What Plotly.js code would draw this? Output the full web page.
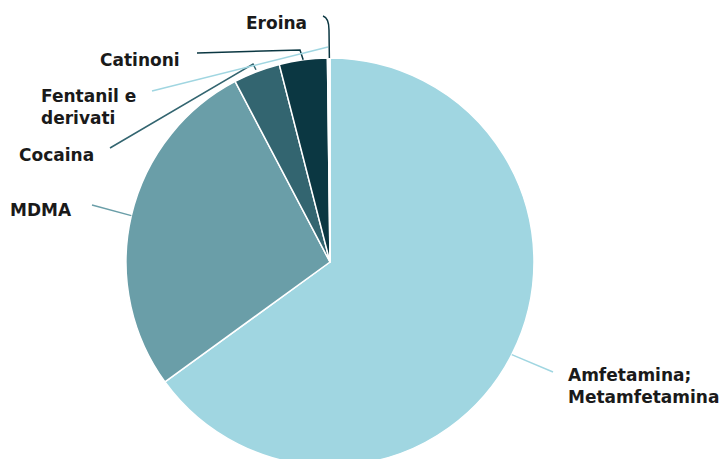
<!DOCTYPE html>
<html><head><meta charset="utf-8">
<script src="https://cdn.plot.ly/plotly-3.0.1.min.js"></script>
<style>html,body{margin:0;padding:0;overflow:hidden;background:#fff}#chart{width:719px;height:480px}</style>
</head><body><div id="chart"></div><script>
// ---- data ----
const categories = ["Amfetamina; Metamfetamina", "MDMA", "Cocaina", "Catinoni", "Fentanil e derivati", "Eroina"];
const shares = [65.0, 27.3, 3.7, 3.8, 0.1, 0.1];
const labelTexts = ["Amfetamina;<br>Metamfetamina", "MDMA", "Cocaina", "Catinoni", "Fentanil e<br>derivati", "Eroina"];
const sliceColors = ["#a0d6e1", "#6a9ea8", "#336570", "#0b3742", "#a0d6e1", "#0b3742"];

// ---- layout geometry (pixels) ----
const W = 719, H = 480;
const CX = 330, CY = 262, R = 204;
const P = (x, y) => [x / W, 1 - y / H];
const fmt = p => p[0].toFixed(5) + "," + p[1].toFixed(5);

// label placement: [x, y, xanchor]
const labelPos = [[566, 386, "left"], [41, 210, "center"], [56, 155, "center"], [140, 60, "center"], [39, 107, "left"], [276, 23, "center"]];
// leader waypoints (pixels) from the label towards the slice; last point comes from the slice angle
// an entry {q:[ctrl, to]} draws a quadratic curve
const leaderPts = [[[553, 372]], [[92, 205]], [[110, 148], [253, 64]], [[197, 53], [300, 50]], [[152, 91]], [[323, 16], {q: [[329, 18], [329, 30]]}]];
const leaderR = [R, R, R + 2, R, R + 11, R];

const total = shares.reduce((a, b) => a + b, 0);
let cum = 0;
const shapes = [], annotations = [];
shares.forEach((v, i) => {
  const mid = (cum + v / 2) / total * 2 * Math.PI; cum += v;
  const ex = CX + leaderR[i] * Math.sin(mid), ey = CY - leaderR[i] * Math.cos(mid);
  const pts = leaderPts[i].concat([[ex, ey]]);
  const path = pts.map((p, k) => {
    if (p.q) return "Q" + fmt(P(p.q[0][0], p.q[0][1])) + " " + fmt(P(p.q[1][0], p.q[1][1]));
    return (k ? "L" : "M") + fmt(P(p[0], p[1]));
  }).join(" ");
  shapes.push({type: "path", xref: "paper", yref: "paper", path: path,
    line: {color: sliceColors[i], width: 1.5}});
  const lp = P(labelPos[i][0], labelPos[i][1]);
  annotations.push({xref: "paper", yref: "paper", x: lp[0], y: lp[1], text: labelTexts[i],
    showarrow: false, xanchor: labelPos[i][2], yanchor: "middle", align: "left",
    font: {family: "DejaVu Sans", size: 17, color: "#1a1a1a", weight: "bold"}});
});

const trace = {
  type: "pie", labels: categories, values: shares, sort: false, direction: "clockwise", rotation: 0,
  marker: {colors: sliceColors, line: {color: "#ffffff", width: 1.5}},
  textinfo: "none", hoverinfo: "none",
  domain: {x: [(CX - R) / W, (CX + R) / W], y: [(H - CY - R) / H, (H - CY + R) / H]}
};

Plotly.newPlot("chart", [trace], {
  width: W, height: H, margin: {l: 0, r: 0, t: 0, b: 0}, showlegend: false,
  paper_bgcolor: "#ffffff", shapes: shapes, annotations: annotations,
  font: {family: "DejaVu Sans"}
}, {staticPlot: true});
</script></body></html>
